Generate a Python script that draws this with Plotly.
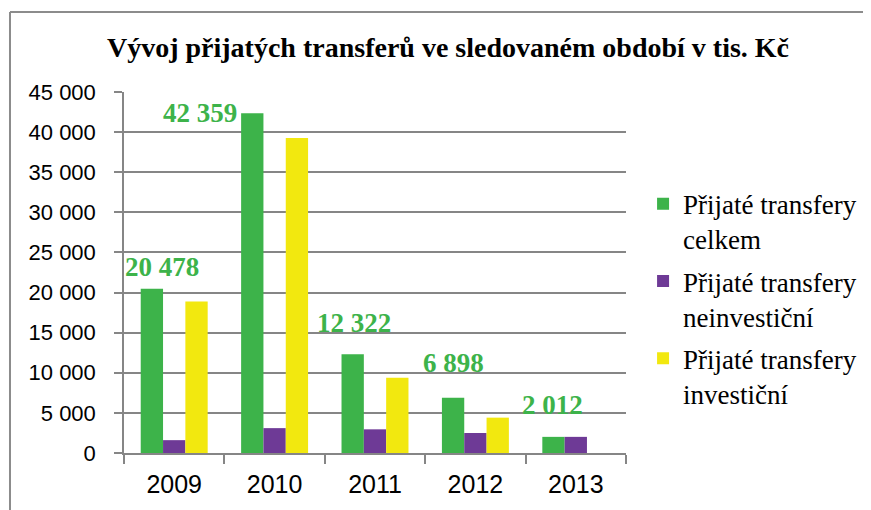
import plotly.graph_objects as go

years = ["2009", "2010", "2011", "2012", "2013"]
celkem = [20478, 42359, 12322, 6898, 2012]
neinvesticni = [1600, 3100, 2950, 2490, 2012]
investicni = [18878, 39259, 9372, 4408, 0]

series_names = [
    "Přijaté transfery<br>celkem",
    "Přijaté transfery<br>neinvestiční",
    "Přijaté transfery<br>investiční",
]
colors = ["#3DB34A", "#6E3A96", "#F2E80F"]

# label offsets (pixels) for the total labels
label_xshift = [-12, -75, -21, -22, -23]
label_yshift = [22, 0, 31, 35, 32]

fig = go.Figure()
for name, vals, col in zip(series_names, [celkem, neinvesticni, investicni], colors):
    fig.add_trace(go.Bar(x=years, y=vals, name=name, marker_color=col,
                         marker_line_width=0, legendgroup=name))

for i, (v, dx, dy) in enumerate(zip(celkem, label_xshift, label_yshift)):
    fig.add_annotation(x=i, y=v, text=f"{v:,}".replace(",", " "),
                       showarrow=False, xshift=dx, yshift=dy,
                       yanchor="middle", xanchor="center",
                       font=dict(family="Liberation Serif", size=27,
                                 color="#3DB34A", weight="bold"))

W, H = 863, 502
grid = "#868686"
fig.update_layout(
    width=W, height=H,
    margin=dict(l=116, r=245, t=84, b=57, autoexpand=False),
    paper_bgcolor="white", plot_bgcolor="white",
    separators=", ",
    barmode="group", bargap=0.333, bargroupgap=0,
    title=dict(text="<b>Vývoj přijatých transferů ve sledovaném období v tis. Kč</b>",
               x=440 / W, xref="container", xanchor="center",
               y=1 - 39 / H, yref="container", yanchor="middle",
               font=dict(family="Liberation Serif", size=28, color="black")),
    xaxis=dict(type="category", showline=True, linecolor=grid, linewidth=1.5,
               ticks="outside", tickson="boundaries", ticklen=9, tickcolor=grid,
               tickwidth=1.5, showgrid=False, range=[-0.5, 4.5],
               automargin=False, ticklabelstandoff=8,
               tickfont=dict(family="Liberation Sans", size=25, color="black")),
    yaxis=dict(range=[0, 45000], dtick=5000, tickformat=",d",
               showline=True, linecolor=grid, linewidth=1.5,
               ticks="outside", ticklen=8, tickcolor=grid, tickwidth=1.5,
               showgrid=True, gridcolor=grid, gridwidth=1.5, zeroline=False,
               automargin=False, ticklabelstandoff=14,
               tickfont=dict(family="Liberation Sans", size=22, color="black")),
    legend=dict(x=1.034, xanchor="left", y=0.757, yanchor="top",
                valign="top", tracegroupgap=4,
                font=dict(family="Liberation Serif", size=27, color="black"),
                bgcolor="rgba(0,0,0,0)"),
    shapes=[
        dict(type="line", xref="paper", yref="paper",
             x0=-0.2271, x1=-0.2271, y0=-0.3, y1=1.2216,
             line=dict(color="#8c8c8c", width=2)),
        dict(type="line", xref="paper", yref="paper",
             x0=-0.2271, x1=1.6, y0=1.2216, y1=1.2216,
             line=dict(color="#8c8c8c", width=2)),
    ],
)

fig.write_html("out.html")
